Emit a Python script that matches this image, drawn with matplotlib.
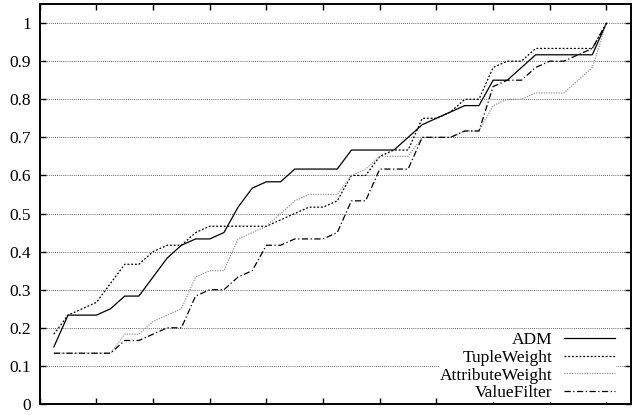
import matplotlib
matplotlib.use('Agg')
import matplotlib.pyplot as plt
import numpy as np

# ranks 1..40, cumulative precision
ranks = np.arange(1, 41)
adm = [0.15, 0.2333, 0.2333, 0.2333, 0.25, 0.2833, 0.2833, 0.3333, 0.3833, 0.4167,
       0.4333, 0.4333, 0.45, 0.5167, 0.5667, 0.5833, 0.5833, 0.6167, 0.6167, 0.6167,
       0.6167, 0.6667, 0.6667, 0.6667, 0.6667, 0.7, 0.7333, 0.75, 0.7667, 0.7833,
       0.7833, 0.85, 0.85, 0.8833, 0.9167, 0.9167, 0.9167, 0.9167, 0.9167, 1.0]
tuple_weight = [0.1833, 0.2333, 0.25, 0.2667, 0.3167, 0.3667, 0.3667, 0.4, 0.4167, 0.4167,
                0.45, 0.4667, 0.4667, 0.4667, 0.4667, 0.4667, 0.4833, 0.5, 0.5167, 0.5167,
                0.5333, 0.6, 0.6, 0.65, 0.6667, 0.6667, 0.75, 0.75, 0.7667, 0.8,
                0.8, 0.8833, 0.9, 0.9, 0.9333, 0.9333, 0.9333, 0.9333, 0.9333, 1.0]
attribute_weight = [0.1333, 0.1333, 0.1333, 0.1333, 0.1333, 0.1833, 0.1833, 0.2167, 0.2333, 0.25,
                    0.3333, 0.35, 0.35, 0.4333, 0.45, 0.4667, 0.5, 0.5333, 0.55, 0.55,
                    0.55, 0.6, 0.6167, 0.65, 0.65, 0.65, 0.7, 0.7, 0.7, 0.7167,
                    0.7167, 0.7833, 0.8, 0.8, 0.8167, 0.8167, 0.8167, 0.85, 0.8833, 1.0]
value_filter = [0.1333, 0.1333, 0.1333, 0.1333, 0.1333, 0.1667, 0.1667, 0.1833, 0.2, 0.2,
                0.2833, 0.3, 0.3, 0.3333, 0.35, 0.4167, 0.4167, 0.4333, 0.4333, 0.4333,
                0.45, 0.5333, 0.5333, 0.6167, 0.6167, 0.6167, 0.7, 0.7, 0.7, 0.7167,
                0.7167, 0.8333, 0.85, 0.85, 0.8833, 0.9, 0.9, 0.9167, 0.9333, 1.0]
y_ticks = [0, 0.1, 0.2, 0.3, 0.4, 0.5, 0.6, 0.7, 0.8, 0.9, 1]

plt.rcParams['font.family'] = ['Liberation Serif', 'DejaVu Serif']
fs = 12.5

fig = plt.figure(figsize=(6.32, 4.15), dpi=100)
ax = fig.add_axes([39.7 / 632, 11 / 415, (631 - 39.7) / 632, 400 / 415])

# dotted horizontal grid
for yv in y_ticks[1:]:
    ax.axhline(yv, color='#333333', lw=0.6, ls=(0, (1, 1.5)), zorder=1)

ax.plot(ranks, adm, color='black', lw=0.9, ls='-', label='ADM', zorder=3)
ax.plot(ranks, tuple_weight, color='black', lw=0.9, ls=(0, (1.5, 1.5)), label='TupleWeight', zorder=3)
ax.plot(ranks, attribute_weight, color='#999999', lw=0.9, ls=(0, (1, 1)), label='AttributeWeight', zorder=3)
ax.plot(ranks, value_filter, color='black', lw=0.9, ls=(0, (5, 2, 1, 2)), label='ValueFilter', zorder=3)

ax.set_xlim(0, 41.73)
ax.set_ylim(0, 1.05)
ax.set_xticks(np.arange(0, 41, 4))
ax.set_yticks(y_ticks)
ax.set_yticklabels(['%g' % v for v in y_ticks], fontsize=fs)
ax.tick_params(axis='x', labelbottom=False, direction='in', top=True, length=4, width=1)
ax.tick_params(axis='y', direction='in', right=True, length=4, width=1, pad=6)
for s in ax.spines.values():
    s.set_linewidth(1.4)

leg = ax.legend(loc='lower right', bbox_to_anchor=(0.977, 0.0), markerfirst=False,
                fontsize=fs, frameon=True, fancybox=False, framealpha=1,
                handlelength=2.9, handletextpad=0.7, labelspacing=0.1,
                borderpad=0.05, borderaxespad=0.1)
leg.get_frame().set_edgecolor('none')
leg.get_frame().set_facecolor('white')
leg.set_zorder(2)

fig.savefig('out.png', dpi=100)
